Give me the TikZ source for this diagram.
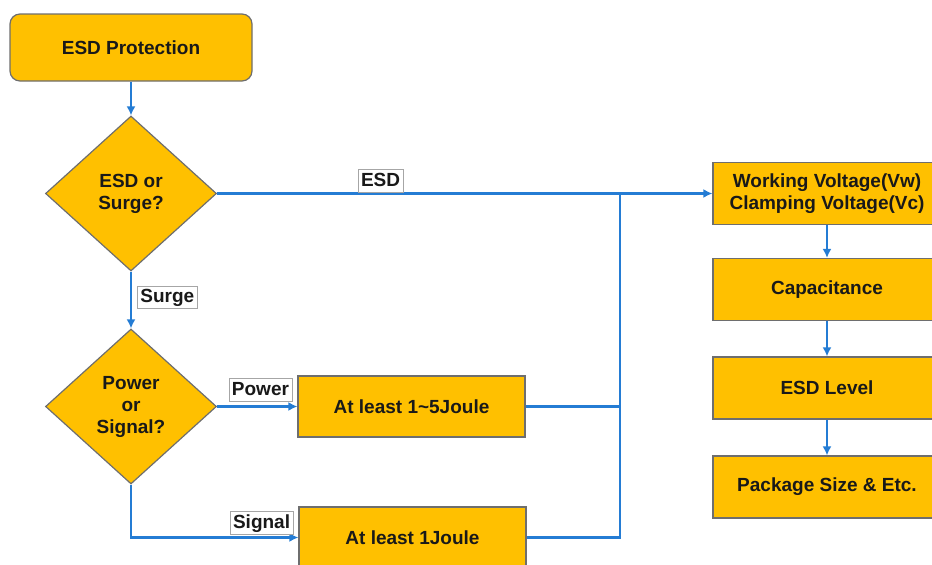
\documentclass[tikz,border=0pt]{standalone}
\usepackage{fontspec}
\setmainfont{Liberation Sans}
\usetikzlibrary{shapes.geometric,arrows.meta}
\definecolor{boxfill}{RGB}{255,192,0}
\definecolor{boxedge}{RGB}{110,110,110}
\definecolor{flow}{RGB}{36,124,212}

\begin{document}
\begin{tikzpicture}[x=1pt,y=-1pt,
    every node/.style={font=\fontsize{19}{22}\selectfont\bfseries, text=black!90},
    box/.style={draw=boxedge, line width=1.2pt, fill=boxfill, minimum width=227pt, minimum height=61pt, align=center},
    start/.style={box, rounded corners=10pt, minimum width=242pt, minimum height=67pt},
    check/.style={box, minimum width=228pt, minimum height=62pt},
    decision/.style={diamond, aspect=1.1, draw=boxedge, line width=1.2pt, fill=boxfill, minimum width=171pt, minimum height=155pt, inner sep=0pt, align=center},
    tag/.style={draw=black!35, line width=0.8pt, fill=white, inner xsep=3pt, inner ysep=3.5pt, text height=13.5pt, text depth=2pt},
    flowline/.style={draw=flow, line width=2.6pt},
    flowarrow/.style={flowline, -{Latex[length=9pt,width=9pt]}}]
    \clip (0,0) rectangle (932,565);

    \node[start] (prot) at (131,47.5){ESD Protection};
    \node[decision] (q1) at (131,193.5){ESD or\\Surge?};
    \node[decision] (q2) at (131,406.5){Power\\or\\Signal?};

    \node[box] (j1) at (411.5,406.5){At least 1\textasciitilde5Joule};
    \node[box] (j2) at (412.5,537.5){At least 1Joule};

    \node[check] (wv) at (827,193.5){Working Voltage(Vw)\\Clamping Voltage(Vc)};
    \node[check] (cap) at (827,289.5){Capacitance};
    \node[check] (lvl) at (827,388){ESD Level};
    \node[check] (pkg) at (827,487){Package Size \& Etc.};

    \coordinate (jn) at (620,193.5);

    \draw[flowarrow] (prot) -- (q1);
    \draw[flowarrow] (q1.east) -- node[tag, pos=0.33, above=1pt] (lesd){ESD} (wv.west);
    \draw[flowarrow] (q1.south) -- node[tag, pos=0.45, right=6pt] (lsurge){Surge} (q2.north);
    \draw[flowarrow] (q2.east) -- node[tag, pos=0.54, above=5pt] (lpow){Power} (j1.west);
    \draw[flowarrow] (q2.south) |- node[tag, pos=0.89, above=3pt] (lsig){Signal} (j2.west);

    \draw[flowline] (j1.east) -- (j1.east -| jn);
    \draw[flowline] (j2.east) -- (j2.east -| jn) -- (jn);

    \draw[flowarrow] (wv) -- (cap);
    \draw[flowarrow] (cap) -- (lvl);
    \draw[flowarrow] (lvl) -- (pkg);
  \end{tikzpicture}
\end{document}
